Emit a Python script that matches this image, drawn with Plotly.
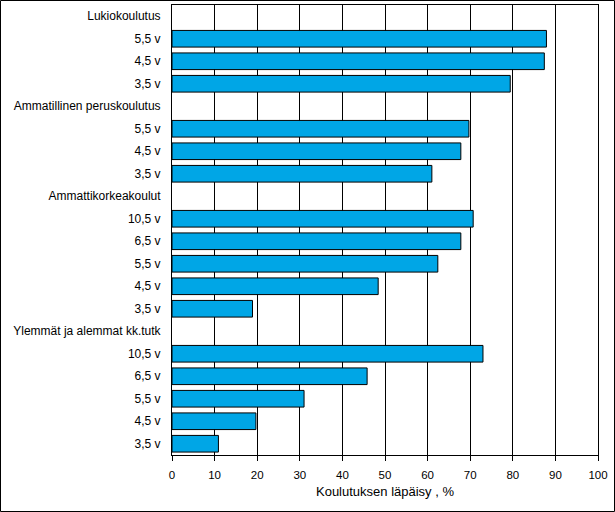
import plotly.graph_objects as go

labels = ["Lukiokoulutus", "5,5 v", "4,5 v", "3,5 v",
          "Ammatillinen peruskoulutus", "5,5 v", "4,5 v", "3,5 v",
          "Ammattikorkeakoulut", "10,5 v", "6,5 v", "5,5 v", "4,5 v", "3,5 v",
          "Ylemmät ja alemmat kk.tutk", "10,5 v", "6,5 v", "5,5 v", "4,5 v", "3,5 v"]
values = [None, 87.9, 87.4, 79.4,
          None, 69.7, 67.8, 61.0,
          None, 70.7, 67.8, 62.4, 48.4, 18.9,
          None, 73.0, 45.8, 31.0, 19.7, 10.9]
x_ticks = [0, 10, 20, 30, 40, 50, 60, 70, 80, 90, 100]
x_title = "Koulutuksen läpäisy , %"

pos = list(range(len(labels)))

fig = go.Figure(go.Bar(
    x=values, y=pos, orientation="h",
    marker=dict(color="#00A6E6", line=dict(color="black", width=1)),
    width=0.74,
))

W, H = 615, 512
ml, mr, mt, mb = 172, 17, 5, 57
pw, ph = W - ml - mr, H - mt - mb

fig.update_layout(
    width=W, height=H,
    margin=dict(l=ml, r=mr, t=mt, b=mb),
    paper_bgcolor="white", plot_bgcolor="white",
    font=dict(family="Liberation Sans, Arial, sans-serif", size=12, color="black"),
    showlegend=False,
    xaxis=dict(range=[0, 100], tickvals=x_ticks, ticks="outside", ticklen=5,
               tickcolor="black", showline=True, linecolor="black", linewidth=1,
               mirror=True, showgrid=True, gridcolor="black", gridwidth=1,
               zeroline=False, ticklabelstandoff=4,
               title=dict(text=x_title, standoff=7, font=dict(size=13)),
               tickfont=dict(size=11.5)),
    yaxis=dict(range=[len(labels) - 0.5, -0.5], tickvals=pos, ticktext=labels,
               showline=True, linecolor="black", linewidth=1, mirror=True,
               showgrid=False, zeroline=False, ticks="", ticklabelstandoff=8,
               tickfont=dict(size=12)),
    shapes=[dict(type="rect", xref="paper", yref="paper",
                 x0=(0.5 - ml) / pw, x1=(W - 0.5 - ml) / pw,
                 y0=-(mb - 0.5) / ph,
                 y1=1 + (mt - 0.5) / ph,
                 line=dict(color="black", width=1), layer="above")],
)

fig.write_html("out.html", config={"displayModeBar": False},
               post_script="document.body.style.margin='0';document.body.style.overflow='hidden';")
